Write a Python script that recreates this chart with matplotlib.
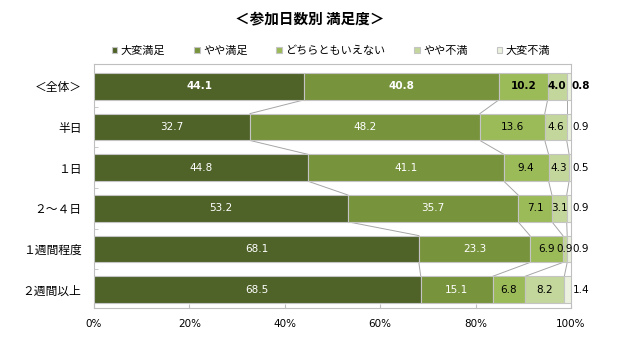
import matplotlib
matplotlib.use("Agg")
import matplotlib.pyplot as plt
import numpy as np

plt.rcParams['font.family'] = ['Noto Sans CJK JP', 'DejaVu Sans']

categories = ["＜全体＞", "半日", "１日", "２～４日", "１週間程度", "２週間以上"]
series_names = ["大変満足", "やや満足", "どちらともいえない", "やや不満", "大変不満"]
very_satisfied = [44.1, 32.7, 44.8, 53.2, 68.1, 68.5]
satisfied = [40.8, 48.2, 41.1, 35.7, 23.3, 15.1]
neutral = [10.2, 13.6, 9.4, 7.1, 6.9, 6.8]
dissatisfied = [4.0, 4.6, 4.3, 3.1, 0.9, 8.2]
very_dissatisfied = [0.8, 0.9, 0.5, 0.9, 0.9, 1.4]
x_ticks = [0, 20, 40, 60, 80, 100]
x_tick_labels = ["0%", "20%", "40%", "60%", "80%", "100%"]
title = "＜参加日数別 満足度＞"

colors = ["#4f6228", "#77933c", "#9bbb59", "#c3d69b", "#ebf1de"]
text_colors = ["white", "white", "black", "black", "black"]

data = np.array([very_satisfied, satisfied, neutral, dissatisfied, very_dissatisfied])
n = len(categories)
y = np.arange(n)
bar_h = 0.66

fig = plt.figure(figsize=(6.24, 3.43), dpi=100)
ax = fig.add_axes([94/624, 1-308/343, (571-94)/624, (308-64)/343])

left = np.zeros(n)
handles = []
for i, (name, vals) in enumerate(zip(series_names, data)):
    b = ax.barh(y, vals, left=left, height=bar_h, color=colors[i],
                edgecolor="#c4c4c4", linewidth=0.8, label=name, zorder=3)
    handles.append(b)
    for j in range(n):
        weight = "bold" if j == 0 else "normal"
        if i == 4:
            ax.text(102.1, y[j], f"{vals[j]:.1f}", ha="center", va="center",
                    fontsize=7.5, color="black", fontweight=weight, clip_on=False,
                    family=['DejaVu Sans'])
        else:
            ax.text(left[j] + vals[j]/2, y[j], f"{vals[j]:.1f}", ha="center",
                    va="center", fontsize=7.5, color=text_colors[i],
                    fontweight=weight, zorder=5, family=['DejaVu Sans'])
    left = left + vals

# series lines connecting cumulative boundaries
cum = np.cumsum(data, axis=0)
for k in range(4):
    for j in range(n - 1):
        ax.plot([cum[k, j], cum[k, j+1]], [y[j] + bar_h/2, y[j+1] - bar_h/2],
                color="#a6a6a6", linewidth=0.7, zorder=2)

ax.set_xlim(0, 100)
ax.set_ylim(n - 1 + 0.45, -0.55)
ax.set_yticks(y)
ax.set_yticklabels(categories, fontsize=8.5)
ax.set_yticks(np.arange(n - 1) + 0.5, minor=True)
ax.tick_params(axis="y", which="major", length=0, pad=9)
ax.tick_params(axis="y", which="minor", length=3, direction="in", color="#bfbfbf")
ax.set_xticks(x_ticks)
ax.set_xticklabels(x_tick_labels, fontsize=7.5, family=['DejaVu Sans'])
ax.tick_params(axis="x", length=3, direction="in", color="#bfbfbf", pad=8)
for sp in ax.spines.values():
    sp.set_color("#bfbfbf")
    sp.set_linewidth(0.8)

fig.text(310/624, 1-18/343, title, ha="center", va="center",
         fontsize=10.5, fontweight="bold")

leg = fig.legend(handles=handles, labels=series_names, loc="center",
                 bbox_to_anchor=(331/624, 1-51/343), ncol=5, frameon=False,
                 fontsize=8, handlelength=0.5, handleheight=0.5,
                 handletextpad=0.3, columnspacing=2.6)

fig.savefig("out.png", dpi=100)
